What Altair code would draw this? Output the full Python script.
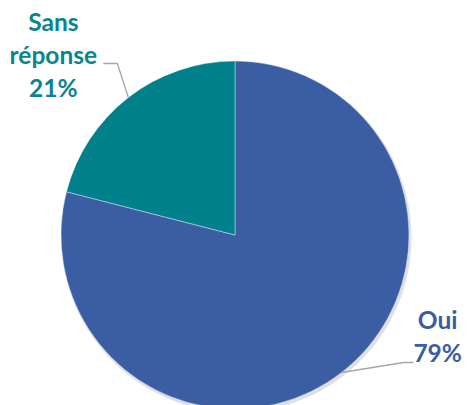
import numpy as np
import pandas as pd
import altair as alt

# ---- data ----
categories = ["Oui", "Sans réponse"]
values = [79, 21]
label_texts = ["Oui\n79%", "Sans\nréponse\n21%"]
colors = ["#3A5DA4", "#00808A"]
text_colors = ["#3A5DA4", "#0A858F"]

# ---- layout (chart pixel coordinates) ----
CX, CY, R = 227, 227, 174
elbow_offsets = [(62, -10), (-11, -34)]   # from arc midpoint to elbow
tail_len = [10, -14]                      # horizontal tail after elbow
text_offsets = [(24, -40), (-50, -40)]    # from tail end to first label line

vals = np.array(values, dtype=float)
frac = vals / vals.sum()
cum = np.cumsum(frac)
mid = (cum - frac / 2) * 2 * np.pi

pie_df = pd.DataFrame({"cat": categories, "val": values, "order": range(len(values))})

line_rows, text_rows = [], []
for i, c in enumerate(categories):
    sx = CX + R * np.sin(mid[i])
    sy = CY - R * np.cos(mid[i])
    ex, ey = sx + elbow_offsets[i][0], sy + elbow_offsets[i][1]
    tx, ty = ex + tail_len[i], ey
    for k, (px, py) in enumerate([(sx, sy), (ex, ey), (tx, ty)]):
        line_rows.append({"cat": c, "k": k, "px": px, "py": py})
    text_rows.append({"cat": c, "label": label_texts[i],
                      "px": tx + text_offsets[i][0], "py": ty + text_offsets[i][1]})
line_df = pd.DataFrame(line_rows)
text_df = pd.DataFrame(text_rows)

color_scale = alt.Scale(domain=categories, range=colors)
text_scale = alt.Scale(domain=categories, range=text_colors)

shadow = alt.Chart(pie_df).mark_arc(radius=R + 1, color="#000000", opacity=0.12).encode(
    theta=alt.Theta("val:Q", stack=True),
    order=alt.Order("order:Q"),
    x=alt.value(CX + 1.5), y=alt.value(CY + 2.5),
)

pie = alt.Chart(pie_df).mark_arc(radius=R, stroke="#FFFFFF", strokeWidth=0.4).encode(
    theta=alt.Theta("val:Q", stack=True),
    order=alt.Order("order:Q"),
    color=alt.Color("cat:N", scale=color_scale, legend=None),
    x=alt.value(CX), y=alt.value(CY),
)

leaders = alt.Chart(line_df).mark_line(color="#A6A6A6", strokeWidth=1.3).encode(
    x=alt.X("px:Q", scale=None, axis=None),
    y=alt.Y("py:Q", scale=None, axis=None),
    detail="cat:N",
    order="k:Q",
)

labels = alt.Chart(text_df).mark_text(
    font="Lato", fontSize=24.5, fontWeight="bold", align="center", baseline="middle",
    lineBreak="\n", lineHeight=33,
).encode(
    x=alt.X("px:Q", scale=None, axis=None),
    y=alt.Y("py:Q", scale=None, axis=None),
    text="label:N",
    color=alt.Color("cat:N", scale=text_scale, legend=None),
)

chart = alt.layer(shadow, pie, leaders, labels).resolve_scale(color="independent").properties(
    width=454, height=397, autosize="none", padding=0,
).configure_view(stroke=None)

chart.save("out.html", embed_options={"renderer": "svg", "actions": False})
